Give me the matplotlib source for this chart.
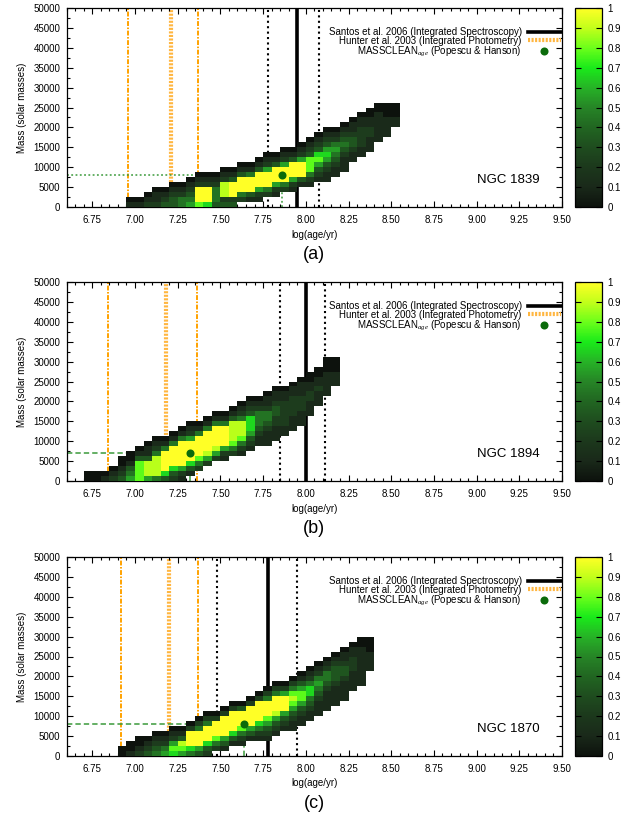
import numpy as np
import matplotlib
matplotlib.use("Agg")
import matplotlib.pyplot as plt
from matplotlib.colors import LinearSegmentedColormap
from matplotlib.ticker import MultipleLocator, FormatStrFormatter, FixedLocator

plt.rcParams['font.family'] = ['Liberation Sans', 'DejaVu Sans']
plt.rcParams['mathtext.fontset'] = 'custom'
plt.rcParams['mathtext.rm'] = 'Liberation Sans'
plt.rcParams['mathtext.it'] = 'Liberation Serif:italic'

# ---------------- data ----------------
CLUSTERS = ["NGC 1839", "NGC 1894", "NGC 1870"]
PANEL_TAGS = ["(a)", "(b)", "(c)"]
SANTOS_AGE = [7.95, 8.00, 7.78]
SANTOS_LOW = [7.78, 7.85, 7.48]
SANTOS_HIGH = [8.08, 8.11, 7.95]
HUNTER_LOW = [6.96, 6.84, 6.92]
HUNTER_AGE = [7.21, 7.18, 7.20]
HUNTER_HIGH = [7.37, 7.36, 7.37]
MC_AGE = [7.86, 7.32, 7.64]
MC_MASS = [8000, 7000, 8000]

X_TICKS = [6.75, 7.00, 7.25, 7.50, 7.75, 8.00, 8.25, 8.50, 8.75, 9.00, 9.25, 9.50]
Y_TICKS = [0, 5000, 10000, 15000, 20000, 25000, 30000, 35000, 40000, 45000, 50000]
CB_TICKS = [0, 0.1, 0.2, 0.3, 0.4, 0.5, 0.6, 0.7, 0.8, 0.9, 1.0]
CB_LABELS = ["0", "0.1", "0.2", "0.3", "0.4", "0.5", "0.6", "0.7", "0.8", "0.9", "1"]
LEGEND_LABELS = ["Santos et al. 2006 (Integrated Spectroscopy)",
                 "Hunter et al. 2003 (Integrated Photometry)",
                 r"MASSCLEAN$_{age}$ (Popescu & Hanson)"]
XLABEL = "log(age/yr)"
YLABEL = "Mass (solar masses)"

# heat-map cells: bin width in log(age) and in mass
AGE_BIN = 0.05
MASS_BIN = 1250
# per panel: first age column, lowest filled mass row per column,
# and column strings of levels 0..9 (level/9 = probability) from that row upward
START_A = 6.95
LO_A = [0, 0, 0, 0, 0, 0, 0, 0, 0, 0, 0, 0, 0, 1, 1, 1, 2, 2, 3, 3, 4, 4, 5, 5, 6, 7, 9, 10, 11, 13, 14, 16]
COLS_A = ["10", "10", "210", "2110", "3210", "33210", "44210", "543210",
          "7999210", "6999210", "3444210", "32888210", "32999310",
          "24999310", "13999410", "125999310", "249995210", "125999310",
          "249995210", "125999310", "139995210", "1247773210", "1235763210",
          "11235653210", "1123454210", "1112343210", "112332110", "112222110",
          "111221100", "11111100", "1111000", "11000"]

START_B = 6.70
LO_B = [0, 0, 0, 0, 0, 0, 0, 0, 0, 0, 0, 0, 1, 2, 3, 4, 4, 5, 5, 6, 7, 7, 8, 9, 10, 11, 13, 15, 17, 19]
COLS_B = ["00", "00", "10", "210", "32100", "543100", "7777310", "58883110",
          "488884210", "369999410", "2369999410", "12599999410", "13699995210",
          "2479999410", "2589999410", "2589999410", "1259999410", "2478888310",
          "12478884210", "12356663210", "1123444210", "11123442110",
          "11122332110", "1122222110", "1112222110", "1112221110",
          "111221100", "11121100", "11111000", "111000"]

START_C = 6.90
LO_C = [0, 0, 0, 0, 0, 0, 0, 0, 0, 0, 0, 1, 1, 2, 2, 3, 3, 3, 4, 5, 5, 6, 7, 8, 9, 10, 11, 13, 14, 17]
COLS_C = ["00", "100", "2100", "3210", "43210", "54210", "675210", "578310",
          "4699920", "35999420", "236999420", "24799920", "135999920",
          "136999920", "124799930", "135999920", "1246999920", "12357999420",
          "12358999420", "1235999520", "11235787420", "11235775310",
          "11234664210", "11123454210", "11112344210", "11112333210",
          "11112332110", "1111222110", "1111111100", "1111000"]

STARTS = [START_A, START_B, START_C]
LOS = [LO_A, LO_B, LO_C]
COLS = [COLS_A, COLS_B, COLS_C]

XMIN, XMAX = 6.6, 9.5
YMIN, YMAX = 0, 50000

# ---------------- style ----------------
cmap = LinearSegmentedColormap.from_list("mc", [
    (0.00, (0.05, 0.07, 0.05)),
    (0.10, (0.10, 0.16, 0.10)),
    (0.20, (0.11, 0.22, 0.11)),
    (0.30, (0.12, 0.30, 0.12)),
    (0.40, (0.13, 0.40, 0.13)),
    (0.50, (0.15, 0.52, 0.15)),
    (0.60, (0.15, 0.70, 0.15)),
    (0.70, (0.10, 0.92, 0.10)),
    (0.80, (0.42, 1.00, 0.10)),
    (0.90, (0.76, 1.00, 0.10)),
    (1.00, (1.00, 1.00, 0.15)),
], N=256)

ORANGE = "#ffa200"
ORANGE_LIGHT = "#ffb640"
GREEN_LINE = "#3a9a3a"
GREEN_DOT = "#0b6b0b"
GREEN_STYLES = [(0, (1.2, 1.6)), (0, (3.5, 2)), (0, (3.5, 2))]

W_PX, H_PX = 621, 816
fig = plt.figure(figsize=(W_PX / 100, H_PX / 100), dpi=100)

ax_left = 66.7 / W_PX
ax_w = (562 - 66.7) / W_PX
ax_h = 199 / H_PX
bottoms_px = [207, 481, 756]
cb_left = 575 / W_PX
cb_w = 27 / W_PX


def build_grid(lo, cols):
    nrow = max(l + len(s) for l, s in zip(lo, cols))
    Z = np.full((nrow, len(cols)), np.nan)
    for i, (l, s) in enumerate(zip(lo, cols)):
        for k, ch in enumerate(s):
            Z[l + k, i] = int(ch) / 9.0
    return np.ma.masked_invalid(Z)


for p in range(3):
    b = 1 - bottoms_px[p] / H_PX
    ax = fig.add_axes([ax_left, b, ax_w, ax_h])
    ax.set_xlim(XMIN, XMAX)
    ax.set_ylim(YMIN, YMAX)

    # reference lines (beneath the map)
    ax.axvline(SANTOS_AGE[p], color="black", lw=2.6, zorder=1,
               label=LEGEND_LABELS[0])
    for xv in (SANTOS_LOW[p], SANTOS_HIGH[p]):
        ax.axvline(xv, color="black", lw=1.5, ls=(0, (1, 1.6)), zorder=1)
    for xv in (HUNTER_LOW[p], HUNTER_HIGH[p]):
        ax.axvline(xv, color=ORANGE, lw=1.4, ls=(0, (2.5, 0.8, 0.8, 0.8)), zorder=1)
    ax.axvline(HUNTER_AGE[p], color=ORANGE_LIGHT, lw=3.0, ls=(0, (0.5, 0.35)),
               zorder=1, label=LEGEND_LABELS[1])
    ax.plot([XMIN, MC_AGE[p]], [MC_MASS[p], MC_MASS[p]], color=GREEN_LINE,
            lw=1.1, ls=GREEN_STYLES[p], zorder=1)
    ax.plot([MC_AGE[p], MC_AGE[p]], [YMIN, MC_MASS[p]], color=GREEN_LINE,
            lw=1.1, ls=GREEN_STYLES[p], zorder=1)

    # probability map
    Z = build_grid(LOS[p], COLS[p])
    xe = STARTS[p] + AGE_BIN * np.arange(Z.shape[1] + 1)
    ye = MASS_BIN * np.arange(Z.shape[0] + 1)
    mesh = ax.pcolormesh(xe, ye, Z, cmap=cmap, vmin=0, vmax=1, zorder=3,
                         edgecolors="none", antialiased=False)

    ax.plot([MC_AGE[p]], [MC_MASS[p]], "o", color=GREEN_DOT, ms=5.8, zorder=5,
            label=LEGEND_LABELS[2], markeredgewidth=0)

    # ticks
    ax.xaxis.set_major_locator(FixedLocator(X_TICKS))
    ax.xaxis.set_minor_locator(MultipleLocator(0.05))
    ax.xaxis.set_major_formatter(FormatStrFormatter("%.2f"))
    ax.yaxis.set_major_locator(FixedLocator(Y_TICKS))
    ax.yaxis.set_minor_locator(MultipleLocator(2500))
    ax.tick_params(which="both", direction="in", top=True, right=True,
                   labelsize=7, width=0.8)
    ax.tick_params(which="major", length=4.2)
    ax.tick_params(which="minor", length=2.2)
    ax.tick_params(axis="x", pad=6.0)
    ax.tick_params(axis="y", pad=4.5)
    for s in ax.spines.values():
        s.set_linewidth(0.9)

    # texts
    ax.text(0.5, -27.5 / 199, XLABEL, transform=ax.transAxes, ha="center",
            va="center", fontsize=7)
    ax.text(0.5, -47.5 / 199, PANEL_TAGS[p], transform=ax.transAxes, ha="center",
            va="center", fontsize=13)
    ax.text(-45 / 495.3, 0.5, YLABEL, transform=ax.transAxes, ha="center",
            va="center", rotation=90, fontsize=7)
    ax.text(0.955, 0.138, CLUSTERS[p], transform=ax.transAxes, ha="right",
            va="center", fontsize=9.5)

    handles, labels = ax.get_legend_handles_labels()
    order = [labels.index(l) for l in LEGEND_LABELS]
    ax.legend([handles[i] for i in order], [labels[i] for i in order],
              loc="upper right", bbox_to_anchor=(0.997, 0.905),
              frameon=False, markerfirst=False, fontsize=7,
              handlelength=3.3, handletextpad=0.7, labelspacing=-0.12,
              borderpad=0, borderaxespad=0)

    # colour bar
    cax = fig.add_axes([cb_left, b, cb_w, ax_h])
    cb = fig.colorbar(mesh, cax=cax, ticks=CB_TICKS)
    cb.set_ticklabels(CB_LABELS)
    cb.outline.set_linewidth(0.9)
    cax.tick_params(direction="in", left=True, right=True, length=4,
                    width=0.8, labelsize=7, pad=4)

fig.savefig("out.png", dpi=100)
